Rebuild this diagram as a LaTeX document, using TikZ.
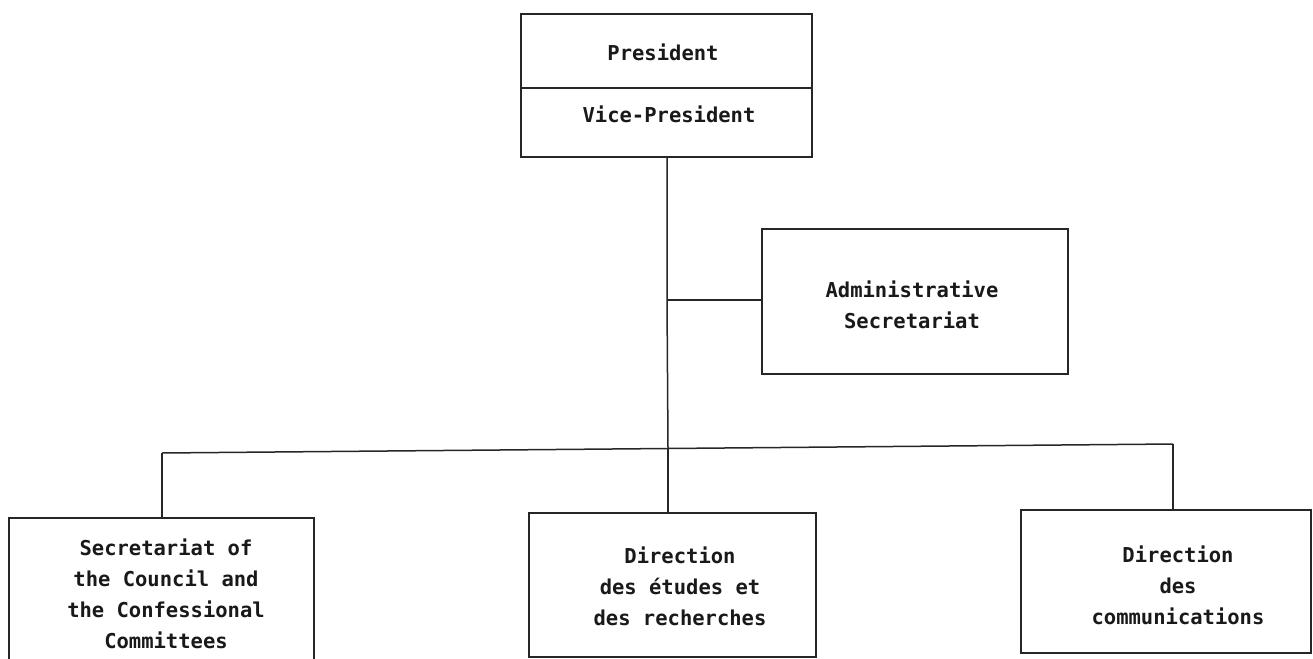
\documentclass[tikz,border=0pt]{standalone}
\usepackage{fontspec}
\newfontfamily\plotfont{DejaVu Sans Mono}
\begin{document}
\begin{tikzpicture}[x=1pt,y=-1pt,
  box/.style={draw=black!85, line width=1.5pt, rectangle, inner sep=0pt},
  lbl/.style={font=\plotfont\bfseries\fontsize{20.5}{31}\selectfont, align=center, inner sep=0pt, text=black!90},
  conn/.style={draw=black!85, line width=1.5pt}]
\useasboundingbox (0,0) rectangle (1313,658);
\clip (0,0) rectangle (1313,658);
% boxes
\node[box, minimum width=291pt, minimum height=74pt] (pres) at (666.5,51) {};
\node[box, minimum width=291pt, minimum height=69pt] (vice) at (666.5,122.5) {};
\node[box, minimum width=306pt, minimum height=145pt] (admin) at (915,301.5) {};
\node[box, minimum width=305pt, minimum height=182pt] (sec) at (161.5,609) {};
\node[box, minimum width=287pt, minimum height=144pt] (etud) at (672.5,585) {};
\node[box, minimum width=290pt, minimum height=143pt] (comm) at (1166,581.5) {};
% labels
\node[lbl] (tpres) at (663,52) {President};
\node[lbl] (tvice) at (669,114) {Vice-President};
\node[lbl] (tadmin) at (912,305) {Administrative\\Secretariat};
\node[lbl] (tsec) at (166,594) {Secretariat of\\the Council and\\the Confessional\\Committees};
\node[lbl] (tetud) at (680,586) {Direction\\des études et\\des recherches};
\node[lbl] (tcomm) at (1178,585) {Direction\\des\\communications};
% connector points
\coordinate (jadmin) at (667,300);
\coordinate (jmid) at (668,448.5);
\coordinate (jleft) at (162,453);
\coordinate (jright) at (1173,444);
% connectors
\draw[conn] (vice.south -| jadmin) -- (jadmin) -- (jmid);
\draw[conn] (jadmin) -- (admin.west |- jadmin);
\draw[conn] (jleft) -- (jmid) -- (jright);
\draw[conn] (jleft) -- (jleft |- sec.north);
\draw[conn] (jmid) -- (jmid |- etud.north);
\draw[conn] (jright) -- (jright |- comm.north);
\end{tikzpicture}
\end{document}
